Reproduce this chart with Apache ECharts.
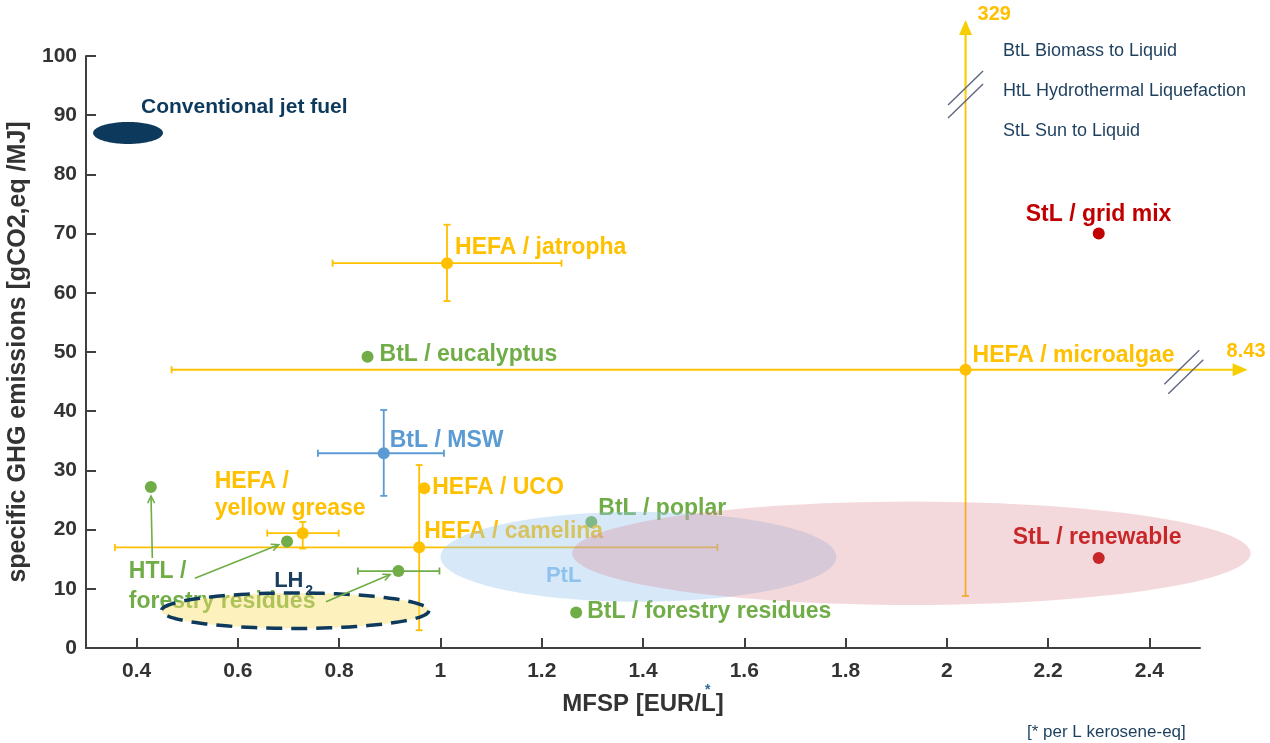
<!DOCTYPE html>
<html><head><meta charset="utf-8">
<script src="https://cdn.jsdelivr.net/npm/echarts@6/dist/echarts.min.js"></script>
<style>html,body{margin:0;padding:0;background:#fff}#c{width:1270px;height:743px}</style>
</head><body><div id="c"></div>
<script>
// ---------------- data ----------------
const xTickValues = [0.4, 0.6, 0.8, 1.0, 1.2, 1.4, 1.6, 1.8, 2.0, 2.2, 2.4];

const hefaNames = ['HEFA / jatropha', 'HEFA / microalgae', 'HEFA / UCO', 'HEFA / camelina', 'HEFA / yellow grease'];
const hefaX     = [1.013, 2.037, 0.968, 0.958, 0.728];
const hefaY     = [65.0, 47.0, 27.0, 17.0, 19.4];
const hefaXLow  = [0.787, 0.469, null, 0.357, 0.658];
const hefaXHigh = [1.239, 8.43, null, 1.547, 0.799];
const hefaYLow  = [58.6, 8.8, null, 3.0, 16.8];
const hefaYHigh = [71.5, 329, null, 30.9, 21.3];

const btlNames = ['BtL / eucalyptus', 'BtL / poplar', 'BtL / forestry residues'];
const btlX = [0.856, 1.298, 1.268];
const btlY = [49.2, 21.3, 6.0];

const mswNames = ['BtL / MSW'];
const mswX = [0.888], mswY = [32.9];
const mswXLow = [0.758], mswXHigh = [1.007];
const mswYLow = [25.7], mswYHigh = [40.2];

const htlNames = ['HTL / forestry residues', 'HTL / forestry residues (2)', 'HTL / forestry residues (3)'];
const htlX = [0.428, 0.697, 0.917];
const htlY = [27.2, 18.0, 13.0];
const htlXLow  = [null, null, 0.837];
const htlXHigh = [null, null, 0.998];
const htlYLow  = [null, null, null];
const htlYHigh = [null, null, null];
// tails of the annotation arrows pointing from the HTL label to the points
const htlArrowTailX = [0.431, 0.515, 0.774];
const htlArrowTailY = [15.2, 11.8, 7.8];

const stlNames = ['StL / grid mix', 'StL / renewable'];
const stlX = [2.30, 2.30];
const stlY = [70.0, 15.2];

// regions: centre and half-extent in data units
const regionNames = ['Conventional jet fuel', 'LH2', 'PtL', 'StL'];
const regionCX = [0.383, 0.713, 1.391, 1.930];
const regionCY = [87.0, 6.3, 15.4, 16.0];
const regionRX = [0.069, 0.264, 0.391, 0.670];
const regionRY = [1.86, 3.0, 7.6, 8.73];

const legendLines = ['BtL Biomass to Liquid', 'HtL Hydrothermal Liquefaction', 'StL Sun to Liquid'];

// ---------------- config ----------------
const X_MIN = 0.3, X_MAX = 2.5, Y_MIN = 0, Y_MAX = 100;
const ARROW_TIP_X = 2.594, ARROW_TIP_Y = 106.1;   // where off-scale bars are cut
const X_BREAK_AT = 2.468, Y_BREAK_AT = 93.5;
const FONT = '"Liberation Sans", Arial, Helvetica, sans-serif';
const COL = {hefa: '#ffc000', hefaArrow: '#f7cf00', green: '#70ad47', blue: '#5b9bd5',
  red: '#c00000', navy: '#0d3a5c', axis: '#404040', brk: '#5f6680', ptl: '#8fc3ee'};

const labelOffsets = {
  'HEFA / jatropha': [8, -16], 'HEFA / microalgae': [7, -14], 'HEFA / UCO': [8, -1],
  'HEFA / camelina': [5, -16], 'HEFA / yellow grease': [-88, -38],
  'BtL / eucalyptus': [12, -2], 'BtL / poplar': [7, -13], 'BtL / forestry residues': [11, -1],
  'BtL / MSW': [6, -13], 'StL / grid mix': [-73, -19], 'StL / renewable': [-86, -20],
  'HTL / forestry residues': [-22, 100]
};
const labelText = {
  'HEFA / yellow grease': 'HEFA /\nyellow grease',
  'HTL / forestry residues': 'HTL /\nforestry residues'
};

function pointData(names, xs, ys, color) {
  return names.map((n, i) => {
    const item = {name: n, value: [xs[i], ys[i]]};
    if (labelOffsets[n]) {
      item.label = {
        show: true, position: 'inside', align: 'left', verticalAlign: 'middle',
        offset: labelOffsets[n], formatter: labelText[n] || n,
        color: color, fontFamily: FONT, fontWeight: 'bold', fontSize: 23,
        lineHeight: n.startsWith('HTL') ? 30 : 27.6
      };
    } else item.label = {show: false};
    return item;
  });
}
function scatterSeries(names, xs, ys, color) {
  return {
    type: 'scatter', z: 3, symbolSize: 12, itemStyle: {color: color, opacity: 1},
    data: pointData(names, xs, ys, color), animation: false, silent: true
  };
}

function errorRows(xs, ys, xl, xh, yl, yh) {
  return xs.map((x, i) => [x, ys[i], xl[i] == null ? NaN : xl[i], xh[i] == null ? NaN : xh[i],
    yl[i] == null ? NaN : yl[i], yh[i] == null ? NaN : yh[i]]);
}
function fmt(v) { return String(+v.toFixed(2)); }

function errorBarRender(color) {
  return function (params, api) {
    const x = api.value(0), y = api.value(1), xl = api.value(2), xh = api.value(3),
      yl = api.value(4), yh = api.value(5);
    const ch = [];
    const st = {stroke: color, lineWidth: 1.8};
    const cap = 3.5;
    const line = (x1, y1, x2, y2, s) => ch.push({type: 'line', shape: {x1, y1, x2, y2}, style: s || st});
    const brk = (cx, cy) => line(cx - 17.5, cy + 17, cx + 17.5, cy - 17, {stroke: COL.brk, lineWidth: 1.4});
    if (!isNaN(xl) && !isNaN(xh)) {
      const a = api.coord([xl, y]);
      line(a[0], a[1] - cap, a[0], a[1] + cap);
      if (xh > X_MAX) {
        const b = api.coord([ARROW_TIP_X, y]);
        const k = api.coord([X_BREAK_AT, y]);
        line(a[0], a[1], k[0], a[1]);
        line(k[0], a[1], b[0] - 12, b[1], {stroke: COL.hefaArrow, lineWidth: 2.2});
        ch.push({type: 'polygon', shape: {points: [[b[0], b[1]], [b[0] - 15, b[1] - 6.5], [b[0] - 15, b[1] + 6.5]]},
          style: {fill: COL.hefaArrow}});
        brk(k[0] - 2, k[1] - 2.5); brk(k[0] + 2, k[1] + 7);
        ch.push({type: 'text', x: b[0] - 21, y: b[1] - 18, style: {text: fmt(xh), fill: COL.hefa,
          font: 'bold 20px ' + FONT, align: 'left', verticalAlign: 'middle'}});
      } else {
        const b = api.coord([xh, y]);
        line(a[0], a[1], b[0], b[1]);
        line(b[0], b[1] - cap, b[0], b[1] + cap);
      }
    }
    if (!isNaN(yl) && !isNaN(yh)) {
      const a = api.coord([x, yl]);
      line(a[0] - cap, a[1], a[0] + cap, a[1]);
      if (yh > Y_MAX) {
        const b = api.coord([x, ARROW_TIP_Y]);
        const k = api.coord([x, Y_BREAK_AT]);
        line(a[0], a[1], k[0], k[1]);
        line(k[0], k[1], b[0], b[1] + 12, {stroke: COL.hefaArrow, lineWidth: 2.2});
        ch.push({type: 'polygon', shape: {points: [[b[0], b[1]], [b[0] - 6.5, b[1] + 15], [b[0] + 6.5, b[1] + 15]]},
          style: {fill: COL.hefaArrow}});
        brk(k[0], k[1] - 6.5); brk(k[0], k[1] + 6.5);
        ch.push({type: 'text', x: b[0] + 12, y: b[1] - 5, style: {text: fmt(yh), fill: COL.hefa,
          font: 'bold 20px ' + FONT, align: 'left', verticalAlign: 'middle'}});
      } else {
        const b = api.coord([x, yh]);
        line(a[0], a[1], b[0], b[1]);
        line(b[0] - cap, b[1], b[0] + cap, b[1]);
      }
    }
    return {type: 'group', children: ch};
  };
}
function errorSeries(rows, color) {
  return {type: 'custom', z: 2, silent: true, animation: false, clip: false,
    renderItem: errorBarRender(color), encode: {x: 0, y: 1}, data: rows};
}

const regionStyle = {
  'Conventional jet fuel': {fill: '#0d3a5c'},
  'LH2': {fill: 'rgba(250,225,110,0.45)', stroke: '#0d3a5c', lineWidth: 3.5, lineDash: [16, 9]},
  'PtL': {fill: 'rgba(155,200,240,0.4)'},
  'StL': {fill: 'rgba(220,130,140,0.3)'}
};
function regionRender(params, api) {
  const name = regionNames[params.dataIndex];
  const c = api.coord([api.value(0), api.value(1)]);
  const s = api.size([api.value(2), api.value(3)]);
  const pts = [];
  const n = 120;
  for (let i = 0; i < n; i++) {
    const t = 2 * Math.PI * i / n;
    pts.push([c[0] + s[0] * Math.cos(t), c[1] + s[1] * Math.sin(t)]);
  }
  const ch = [{type: 'polygon', shape: {points: pts}, style: Object.assign({}, regionStyle[name])}];
  if (name === 'Conventional jet fuel') {
    ch.push({type: 'text', x: c[0] + 13, y: c[1] - 26, style: {text: name, fill: COL.navy,
      font: 'bold 21px ' + FONT, align: 'left', verticalAlign: 'middle'}});
  } else if (name === 'LH2') {
    ch.push({type: 'text', x: c[0] - 21, y: c[1] - 29.5, style: {text: 'LH', fill: '#1c3e5e',
      font: 'bold 22px ' + FONT, align: 'left', verticalAlign: 'middle'}});
    ch.push({type: 'text', x: c[0] + 10, y: c[1] - 20, style: {text: '2', fill: '#1c3e5e',
      font: 'bold 14px ' + FONT, align: 'left', verticalAlign: 'middle'}});
  } else if (name === 'PtL') {
    ch.push({type: 'text', x: c[0] - 92.5, y: c[1] + 19, style: {text: name, fill: COL.ptl,
      font: 'bold 22px ' + FONT, align: 'left', verticalAlign: 'middle'}});
  }
  return {type: 'group', children: ch};
}

function arrowRender(params, api) {
  const t = api.coord([api.value(0), api.value(1)]);
  const p = api.coord([api.value(2), api.value(3)]);
  const dx = p[0] - t[0], dy = p[1] - t[1], L = Math.sqrt(dx * dx + dy * dy);
  const ux = dx / L, uy = dy / L;
  const h = [p[0] - ux * 9, p[1] - uy * 9];
  const st = {stroke: COL.green, lineWidth: 1.6};
  const ang = Math.atan2(uy, ux), a = 0.45, len = 8;
  return {type: 'group', children: [
    {type: 'line', shape: {x1: t[0], y1: t[1], x2: h[0], y2: h[1]}, style: st},
    {type: 'polyline', shape: {points: [
      [h[0] - len * Math.cos(ang - a), h[1] - len * Math.sin(ang - a)], h,
      [h[0] - len * Math.cos(ang + a), h[1] - len * Math.sin(ang + a)]]}, style: Object.assign({fill: null}, st)}
  ]};
}

const chart = echarts.init(document.getElementById('c'), null, {renderer: 'canvas'});
const axisStyle = {color: COL.axis, width: 2};
const option = {
  animation: false,
  backgroundColor: '#ffffff',
  grid: {left: 86, right: 70, top: 56, bottom: 95, containLabel: false, outerBoundsMode: 'none'},
  xAxis: {
    type: 'value', min: X_MIN, max: X_MAX,
    axisLine: {show: true, lineStyle: axisStyle},
    axisTick: {show: true, inside: true, length: 10, customValues: xTickValues, lineStyle: axisStyle},
    axisLabel: {customValues: xTickValues, formatter: v => String(+(+v).toFixed(1)),
      color: '#333', fontFamily: FONT, fontWeight: 'bold', fontSize: 21, margin: 13},
    splitLine: {show: false},
    name: 'MFSP [EUR/L]', nameLocation: 'middle', nameGap: 44,
    nameTextStyle: {color: '#333', fontFamily: FONT, fontWeight: 'bold', fontSize: 24}
  },
  yAxis: {
    type: 'value', min: Y_MIN, max: Y_MAX, interval: 10,
    axisLine: {show: true, lineStyle: axisStyle},
    axisTick: {show: true, inside: true, length: 10, lineStyle: axisStyle},
    axisLabel: {color: '#333', fontFamily: FONT, fontWeight: 'bold', fontSize: 21, margin: 9},
    splitLine: {show: false},
    name: 'specific GHG emissions [gCO2,eq /MJ]', nameLocation: 'middle', nameGap: 52, nameRotate: 90,
    nameTextStyle: {color: '#333', fontFamily: FONT, fontWeight: 'bold', fontSize: 25}
  },
  graphic: [
    ...legendLines.map((t, i) => ({type: 'text', x: 1003, y: 51 + 40 * i,
      style: {text: t, fill: '#1d3f5e', font: '18px ' + FONT, verticalAlign: 'middle', align: 'left'}})),
    {type: 'text', x: 1027, y: 732, style: {text: '[* per L kerosene-eq]', fill: '#1d3f5e',
      font: '17px ' + FONT, verticalAlign: 'middle', align: 'left'}},
    {type: 'text', x: 705, y: 690, style: {text: '*', fill: '#2e6a9e', font: 'bold 14px ' + FONT,
      verticalAlign: 'middle', align: 'left'}}
  ],
  series: [
    errorSeries(errorRows(hefaX, hefaY, hefaXLow, hefaXHigh, hefaYLow, hefaYHigh), COL.hefa),
    errorSeries(errorRows(mswX, mswY, mswXLow, mswXHigh, mswYLow, mswYHigh), COL.blue),
    errorSeries(errorRows(htlX, htlY, htlXLow, htlXHigh, htlYLow, htlYHigh), COL.green),
    scatterSeries(hefaNames, hefaX, hefaY, COL.hefa),
    scatterSeries(btlNames, btlX, btlY, COL.green),
    scatterSeries(mswNames, mswX, mswY, COL.blue),
    scatterSeries(htlNames, htlX, htlY, COL.green),
    scatterSeries(stlNames, stlX, stlY, COL.red),
    {type: 'custom', z: 4, silent: true, animation: false, clip: false, renderItem: regionRender,
      encode: {x: 0, y: 1},
      data: regionNames.map((n, i) => [regionCX[i], regionCY[i], regionRX[i], regionRY[i]])},
    {type: 'custom', z: 5, silent: true, animation: false, clip: false, renderItem: arrowRender,
      encode: {x: [0, 2], y: [1, 3]},
      data: htlX.map((x, i) => [htlArrowTailX[i], htlArrowTailY[i], x, htlY[i]])}
  ]
};
chart.setOption(option);
</script>
</body></html>
